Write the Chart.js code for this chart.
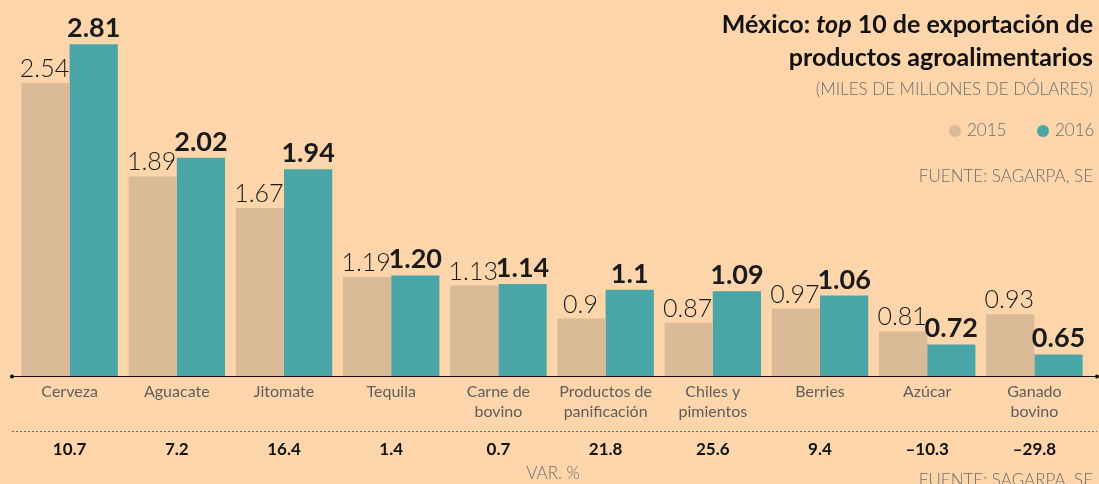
<!DOCTYPE html>
<html>
<head>
<meta charset="utf-8">
<script src="https://cdn.jsdelivr.net/npm/chart.js@4/dist/chart.umd.min.js"></script>
<style>
  body { margin: 0; background: #fdd5aa; }
  #wrap { width: 1099px; height: 484px; position: relative; }
</style>
</head>
<body>
<div id="wrap"><canvas id="chart" width="1099" height="484"></canvas></div>
<script>
    // datos
    var categories = ["Cerveza", "Aguacate", "Jitomate", "Tequila", ["Carne de", "bovino"],
        ["Productos de", "panificación"], ["Chiles y", "pimientos"], "Berries", "Azúcar", ["Ganado", "bovino"]];
    var values2015 = [2.54, 1.89, 1.67, 1.19, 1.13, 0.9, 0.87, 0.97, 0.81, 0.93];
    var values2016 = [2.81, 2.02, 1.94, 1.20, 1.14, 1.1, 1.09, 1.06, 0.72, 0.65];
    var labels2015 = ["2.54", "1.89", "1.67", "1.19", "1.13", "0.9", "0.87", "0.97", "0.81", "0.93"];
    var labels2016 = ["2.81", "2.02", "1.94", "1.20", "1.14", "1.1", "1.09", "1.06", "0.72", "0.65"];
    var varPct = ["10.7", "7.2", "16.4", "1.4", "0.7", "21.8", "25.6", "9.4", "–10.3", "–29.8"];

    var color2015 = "#dbba98";
    var color2016 = "#4aa5a6";
    var fontFamily = "Lato, 'Open Sans', sans-serif";

    // textos, leyenda, valores y líneas extra
    const extrasPlugin = {
        id: 'extras',
        afterDatasetsDraw(chart) {
            const ctx = chart.ctx;
            const xScale = chart.scales.x;

            // etiquetas de valor sobre las barras
            const m0 = chart.getDatasetMeta(0);
            const m1 = chart.getDatasetMeta(1);
            ctx.save();
            ctx.textAlign = 'center';
            ctx.textBaseline = 'alphabetic';
            ctx.fillStyle = '#1a1a1a';
            m0.data.forEach(function (bar, i) {
                ctx.font = "300 25px " + fontFamily;
                ctx.fillText(labels2015[i], bar.x - 1, bar.y - 6);
            });
            m1.data.forEach(function (bar, i) {
                ctx.font = "bold 27px " + fontFamily;
                ctx.fillText(labels2016[i], bar.x, bar.y - 7);
            });

            // línea base con puntos
            const baseY = chart.chartArea.bottom + 0.5;
            ctx.strokeStyle = '#111';
            ctx.lineWidth = 1.2;
            ctx.beginPath();
            ctx.moveTo(12, baseY);
            ctx.lineTo(1097, baseY);
            ctx.stroke();
            ctx.fillStyle = '#111';
            [12, 1097].forEach(function (x) {
                ctx.beginPath();
                ctx.arc(x, baseY, 2, 0, Math.PI * 2);
                ctx.fill();
            });

            // línea punteada
            ctx.strokeStyle = '#6b6b6b';
            ctx.lineWidth = 1;
            ctx.setLineDash([2, 2]);
            ctx.beginPath();
            ctx.moveTo(12, 431.5);
            ctx.lineTo(1097, 431.5);
            ctx.stroke();
            ctx.setLineDash([]);

            // variación %
            ctx.fillStyle = '#111';
            ctx.font = "bold 17px " + fontFamily;
            ctx.textBaseline = 'middle';
            varPct.forEach(function (v, i) {
                ctx.fillText(v, xScale.getPixelForValue(i), 450);
            });
            ctx.fillStyle = '#6e6e6e';
            ctx.font = "300 17px " + fontFamily;
            ctx.fillText("VAR. %", 553, 474);
            ctx.textAlign = 'right';
            ctx.fillText("FUENTE: SAGARPA, SE", 1093, 481);

            // título
            ctx.textAlign = 'right';
            ctx.textBaseline = 'alphabetic';
            ctx.fillStyle = '#111';
            ctx.font = "bold 25px " + fontFamily;
            const rest = " 10 de exportación de";
            const restW = ctx.measureText(rest).width;
            ctx.fillText(rest, 1093, 33);
            ctx.font = "italic bold 25px " + fontFamily;
            const topW = ctx.measureText("top").width;
            ctx.fillText("top", 1093 - restW, 33);
            ctx.font = "bold 25px " + fontFamily;
            ctx.fillText("México: ", 1093 - restW - topW, 33);
            ctx.fillText("productos agroalimentarios", 1093, 66);

            ctx.fillStyle = '#6e6e6e';
            ctx.font = "300 17px " + fontFamily;
            ctx.fillText("(MILES DE MILLONES DE DÓLARES)", 1093, 95);
            ctx.fillText("FUENTE: SAGARPA, SE", 1093, 182);

            // leyenda
            ctx.textBaseline = 'middle';
            ctx.textAlign = 'left';
            const legend = [[955, color2015, "2015"], [1043, color2016, "2016"]];
            legend.forEach(function (l) {
                ctx.fillStyle = l[1];
                ctx.beginPath();
                ctx.arc(l[0], 131, 6, 0, Math.PI * 2);
                ctx.fill();
                ctx.fillStyle = '#6e6e6e';
                ctx.fillText(l[2], l[0] + 12, 131);
            });
            ctx.restore();
        }
    };

    new Chart(document.getElementById('chart'), {
        type: 'bar',
        data: {
            labels: categories,
            datasets: [
                { label: '2015', data: values2015, backgroundColor: color2015 },
                { label: '2016', data: values2016, backgroundColor: color2016 }
            ]
        },
        options: {
            responsive: false,
            animation: false,
            layout: { padding: { left: 16, right: 11, top: 17, bottom: 0 } },
            plugins: {
                legend: { display: false },
                tooltip: { enabled: false }
            },
            datasets: { bar: { categoryPercentage: 0.9, barPercentage: 1.0 } },
            scales: {
                x: {
                    grid: { display: false, drawTicks: false, tickLength: 0 },
                    border: { display: false },
                    afterFit: function (scale) { scale.height = 108; },
                    ticks: {
                        color: '#5e5e5e',
                        padding: 5,
                        maxRotation: 0,
                        autoSkip: false,
                        font: { family: fontFamily, size: 16, weight: 'normal', lineHeight: 1.3 }
                    }
                },
                y: {
                    display: false,
                    min: 0.5,
                    max: 3.0
                }
            }
        },
        plugins: [extrasPlugin]
    });
</script>
</body>
</html>
